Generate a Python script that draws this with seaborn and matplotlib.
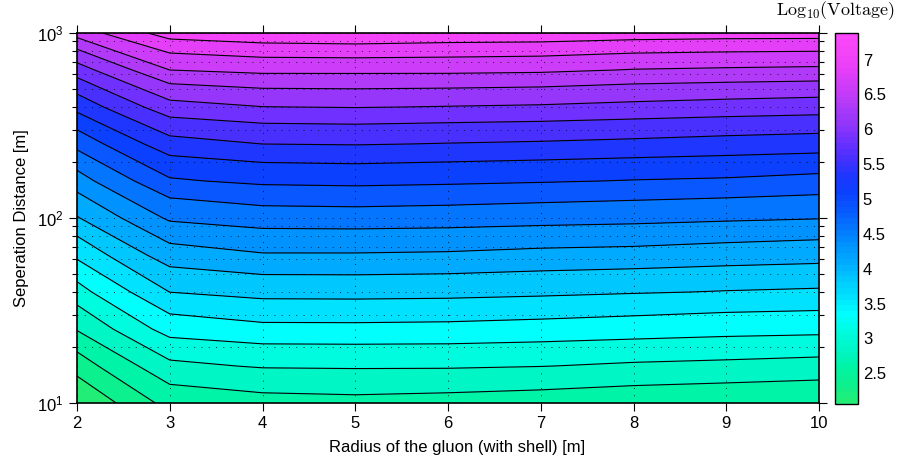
import numpy as np
import matplotlib
matplotlib.use('Agg')
import matplotlib.pyplot as plt
import matplotlib.colors as mcolors
import matplotlib.ticker as mticker
import seaborn as sns

#### Data: log10(voltage) per gluon radius, on the distance grid
radius = [2, 3, 4, 5, 6, 7, 8, 9, 10]
distance = [10, 15.85, 25.12, 39.81, 63.10, 100, 158.5, 251.2, 398.1, 631.0, 1000]

v_r2 = [2.06, 2.432, 2.841, 3.231, 3.638, 4.069, 4.485, 4.932, 5.440, 5.995, 6.73]
v_r3 = [2.66, 3.018, 3.440, 3.836, 4.233, 4.636, 5.069, 5.514, 6.022, 6.620, 7.25]
v_r4 = [2.737, 3.095, 3.522, 3.920, 4.322, 4.727, 5.151, 5.607, 6.109, 6.684, 7.33]
v_r5 = [2.756, 3.103, 3.524, 3.925, 4.322, 4.736, 5.169, 5.620, 6.123, 6.684, 7.36]
v_r6 = [2.735, 3.101, 3.516, 3.914, 4.310, 4.721, 5.147, 5.597, 6.104, 6.684, 7.32]
v_r7 = [2.707, 3.079, 3.492, 3.886, 4.277, 4.694, 5.120, 5.577, 6.085, 6.666, 7.31]
v_r8 = [2.665, 3.040, 3.461, 3.852, 4.261, 4.671, 5.089, 5.549, 6.048, 6.609, 7.27]
v_r9 = [2.633, 3.018, 3.424, 3.822, 4.223, 4.636, 5.069, 5.514, 6.013, 6.587, 7.25]
v_r10 = [2.599, 2.989, 3.404, 3.801, 4.192, 4.605, 5.023, 5.486, 5.984, 6.569, 7.247]

# colour scale limits and colours seen at each contour level
zmin, zmax = 2.06, 7.38
cmap_values = [2.06, 2.313, 2.567, 2.82, 3.073, 3.327, 3.58, 3.833, 4.087, 4.34, 4.593,
               4.847, 5.10, 5.353, 5.607, 5.86, 6.113, 6.367, 6.62, 6.873, 7.127, 7.38]
cmap_hex = ['#22ee77', '#0cf08e', '#00f4a8', '#00f6c6', '#00fcdf', '#00ffff', '#00e2ff',
            '#00c8ff', '#00aaff', '#0092ff', '#0474ff', '#0858ff', '#0c40ff', '#1e36ff',
            '#4a30ff', '#7030ff', '#9336fa', '#b03af8', '#cc3cf8', '#e43ef8', '#f444f8', '#fa48fa']
cbar_ticks = [2.5, 3, 3.5, 4, 4.5, 5, 5.5, 6, 6.5, 7]

#### Style
sns.set_style('ticks', {'axes.edgecolor': 'k', 'text.color': 'k', 'xtick.color': 'k',
                        'ytick.color': 'k', 'axes.labelcolor': 'k'})
plt.rcParams['font.family'] = ['Liberation Sans', 'DejaVu Sans']
plt.rcParams['mathtext.fontset'] = 'cm'

Z = np.column_stack([v_r2, v_r3, v_r4, v_r5, v_r6, v_r7, v_r8, v_r9, v_r10])

norm = mcolors.Normalize(vmin=zmin, vmax=zmax)
pos = [(v - zmin) / (zmax - zmin) for v in cmap_values]
cmap = mcolors.LinearSegmentedColormap.from_list('volt', list(zip(pos, cmap_hex)))

levels = np.linspace(zmin, zmax, 22)
band_colors = [cmap(norm(v)) for v in levels[:-1]]

fig = plt.figure(figsize=(8.97, 4.65), dpi=100)
ax = fig.add_axes([77/897, 1-403/465, (819-77)/897, (403-33)/465])

ax.contourf(radius, distance, Z, levels=levels, colors=band_colors)
ax.contour(radius, distance, Z, levels=levels[1:-1], colors='k', linewidths=0.8)
ax.set_yscale('log')
ax.set_xlim(2, 10)
ax.set_ylim(10, 1000)
ax.set_xticks(radius)

ax.set_axisbelow(False)
ax.grid(True, which='both', color='k', linestyle=(0, (1, 6.5)), linewidth=0.7, alpha=0.8)
ax.tick_params(which='both', direction='out', top=True, right=True, width=0.8, labelsize=12)
ax.tick_params(which='major', length=6)
ax.tick_params(which='minor', length=3.5)
for s in ax.spines.values():
    s.set_linewidth(1.2)

ax.set_xlabel('Radius of the gluon (with shell) [m]', fontsize=12)
ax.xaxis.set_label_coords(0.512, -0.1)
ax.set_ylabel('Seperation Distance [m]', fontsize=12, labelpad=6)

#### Colorbar
cax = fig.add_axes([835/897, 1-404/465, 23/897, 371/465])
sm = plt.cm.ScalarMappable(norm=norm, cmap=cmap.resampled(64))
cb = fig.colorbar(sm, cax=cax)
cb.set_ticks(cbar_ticks)
cb.ax.yaxis.set_major_formatter(mticker.FormatStrFormatter('%g'))
cb.ax.minorticks_off()
cb.outline.set_linewidth(1.0)
cax.tick_params(direction='in', left=True, right=True, length=4, width=0.8, labelsize=12)

fig.text(895/897, 1-15/465, r'$\mathrm{Log_{10}(Voltage)}$', ha='right', va='baseline', fontsize=13)

fig.savefig('out.png', dpi=100)
